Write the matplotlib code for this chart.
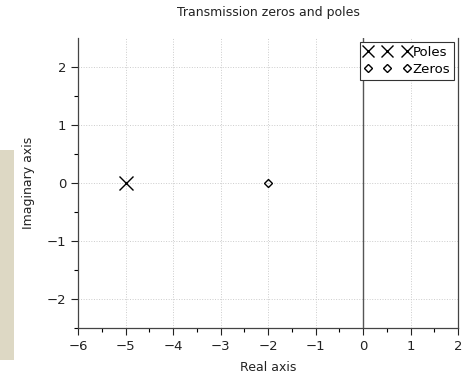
import matplotlib
matplotlib.use('Agg')
import matplotlib.pyplot as plt
from matplotlib.patches import Rectangle

# transmission poles and zeros (real, imaginary)
poles_re = [-5.0]
poles_im = [0.0]
zeros_re = [-2.0]
zeros_im = [0.0]

x_ticks = [-6, -5, -4, -3, -2, -1, 0, 1, 2]
y_ticks = [-2, -1, 0, 1, 2]

fig = plt.figure(figsize=(4.67, 3.84), dpi=100)
fig.patches.append(Rectangle((0, 1 - 360/384), 14/467, 210/384,
                             transform=fig.transFigure, facecolor='#ddd8c4',
                             edgecolor='none'))
ax = fig.add_axes([78/467, 1 - 328/384, 380/467, 290/384])

ax.plot(poles_re, poles_im, linestyle='none', marker='x', markersize=10,
        markeredgewidth=1.0, color='black', label='Poles')
ax.plot(zeros_re, zeros_im, linestyle='none', marker='D', markersize=4.5,
        markerfacecolor='none', markeredgewidth=1.0, color='black', label='Zeros')

ax.axvline(0, color='#555555', linewidth=1.0, zorder=3)

ax.set_xlim(-6, 2)
ax.set_ylim(-2.5, 2.5)
ax.set_xticks(x_ticks)
ax.set_yticks(y_ticks)
ax.set_xticks([v + 0.5 for v in x_ticks[:-1]], minor=True)
ax.set_yticks([-2.5, -1.5, -0.5, 0.5, 1.5], minor=True)
ax.set_xticklabels([str(v).replace('-', '\u2212') for v in x_ticks])
ax.set_yticklabels([str(v).replace('-', '\u2212') for v in y_ticks])
ax.tick_params(which='major', direction='out', length=5, width=0.8,
               labelsize=9.5, colors='#222222')
ax.tick_params(which='minor', direction='out', length=3, width=0.8)
ax.set_axisbelow(True)
ax.grid(True, which='major', linestyle=':', color='#cccccc', linewidth=0.7)

ax.spines['top'].set_visible(False)
for s in ['left', 'bottom', 'right']:
    ax.spines[s].set_color('#444444')
    ax.spines[s].set_linewidth(0.9)

ax.set_title('Transmission zeros and poles', fontsize=9, color='#222222', pad=16)
ax.set_xlabel('Real axis', fontsize=9, color='#222222', labelpad=6)
ax.set_ylabel('Imaginary axis', fontsize=9, color='#222222', labelpad=8)

leg = ax.legend(loc='upper right', numpoints=3, fontsize=9.5, fancybox=False,
                framealpha=1, edgecolor='#333333', handlelength=3.6,
                markerscale=0.8, handletextpad=0.1, borderpad=0.3,
                borderaxespad=0.3, labelspacing=0.3)
leg.get_frame().set_linewidth(0.8)

fig.savefig('out.png', dpi=100)
